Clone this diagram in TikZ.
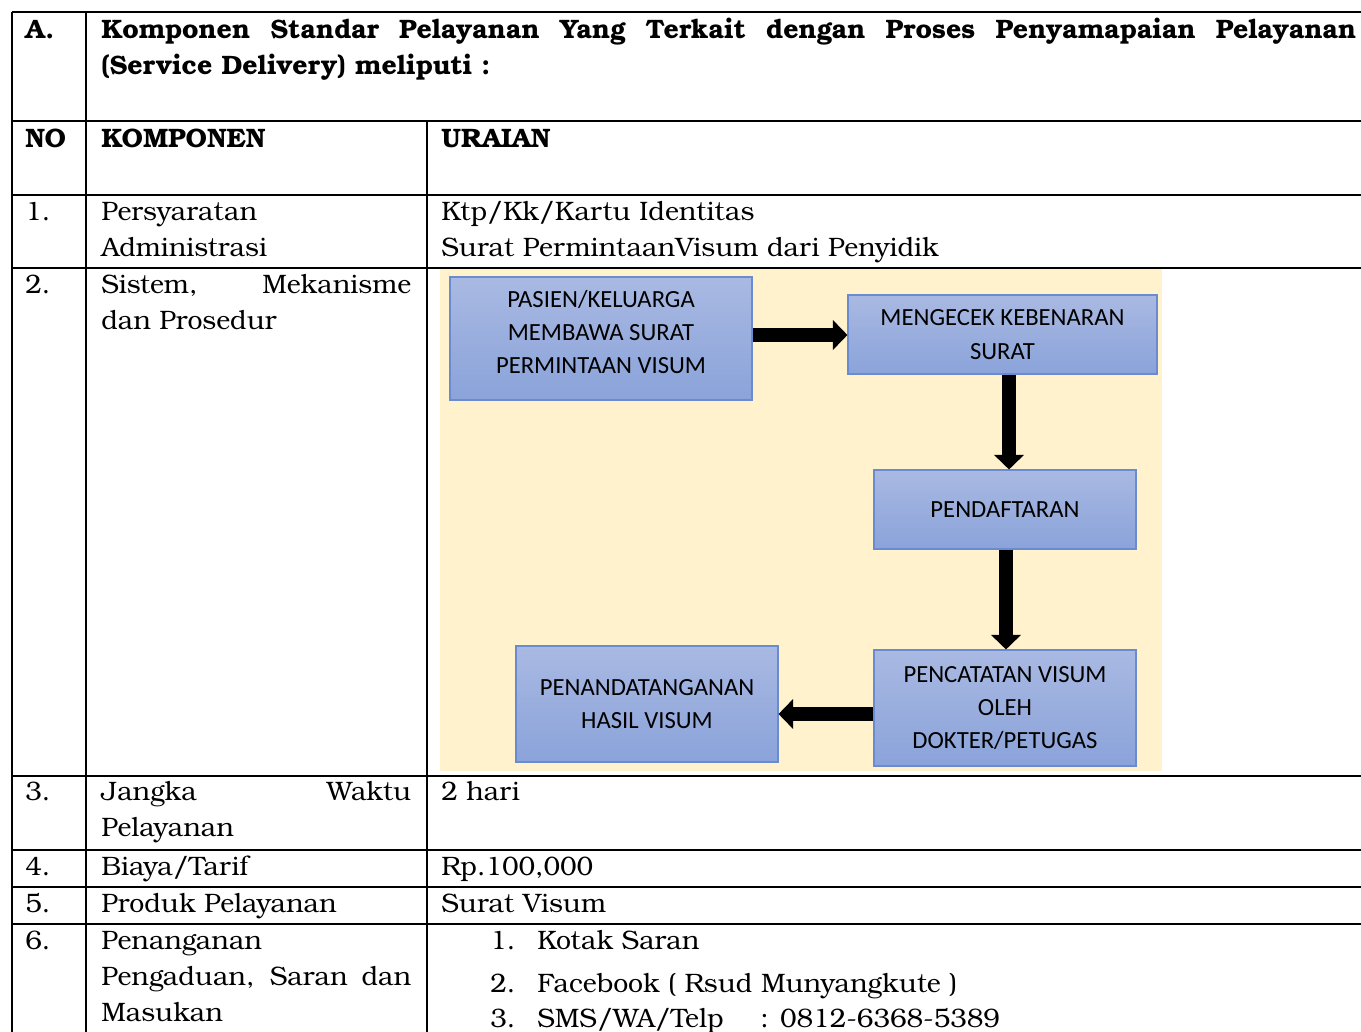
\documentclass[tikz,border=0pt]{standalone}
\usepackage{fontspec}
\setmainfont{TeX Gyre Bonum}
\newfontfamily\carlito{Carlito}
\newcommand\bk{\rmfamily}
\usetikzlibrary{arrows.meta}
\definecolor{cream}{HTML}{FFF2CC}
\definecolor{boxtop}{HTML}{A9B9E2}
\definecolor{boxbot}{HTML}{8AA3DA}
\definecolor{boxline}{HTML}{6A8BD0}
\begin{document}
\begin{tikzpicture}[x=0.75pt,y=-0.75pt,
  tline/.style={line width=1.5pt,black},
  cell/.style={anchor=base west,inner sep=0pt,font=\bk\fontsize{20}{24}\selectfont},
  hcell/.style={cell,font=\bk\fontsize{20}{24}\selectfont\bfseries},
  ftext/.style={align=center,font=\carlito\fontsize{18.5}{25}\selectfont,inner sep=0pt},
  fbox/.style={draw=boxline,line width=0.8pt,top color=boxtop,bottom color=boxbot,ftext},
  farrow/.style={line width=10.5pt,-{Triangle[length=11pt,width=22pt]}}]
\useasboundingbox (0,0) rectangle (1361,1032);
\fill[white] (0,0) rectangle (1361,1032);
% flowchart background
\fill[cream] (440,268) rectangle (1162,771);
% table rules
\draw[tline] (12,12) -- (1365,12);
\foreach \yy in {121,195,268,776,850,887,924}
  \draw[tline] (12,\yy) -- (1365,\yy);
\draw[tline] (12,12) -- (12,1036);
\draw[tline] (86,12) -- (86,1036);
\draw[tline] (427,121) -- (427,1036);
% header
\node[hcell] (hA) at (25,38) {A.};
\node[hcell] (hA1) at (101,38) {\makebox[941.25pt][s]{Komponen Standar Pelayanan Yang Terkait dengan Proses Penyamapaian Pelayanan}};
\node[hcell] (hA2) at (101,74) {(Service Delivery) meliputi :};
\node[hcell] (hNO) at (25,147) {NO};
\node[hcell] (hKO) at (101,147) {KOMPONEN};
\node[hcell] (hUR) at (441,147) {URAIAN};
% row 1
\node[cell] (n1) at (25,220) {1.};
\node[cell] (k1a) at (101,220) {Persyaratan};
\node[cell] (k1b) at (101,256) {Administrasi};
\node[cell] (u1a) at (441,220) {Ktp/Kk/Kartu Identitas};
\node[cell] (u1b) at (441,256) {Surat PermintaanVisum dari Penyidik};
% row 2
\node[cell] (n2) at (25,293) {2.};
\node[cell] (k2a) at (101,293) {\makebox[232.5pt][s]{Sistem, Mekanisme}};
\node[cell] (k2b) at (101,329) {dan Prosedur};
% flowchart
\node[fbox,minimum width=226.5pt,minimum height=92.25pt] (b1) at (601,338.5) {};
\node[ftext] (b1t) at (601,332) {PASIEN/KELUARGA\\MEMBAWA SURAT\\PERMINTAAN VISUM};
\node[fbox,minimum width=231.75pt,minimum height=59.25pt] (b2) at (1002.5,334.5) {MENGECEK KEBENARAN\\SURAT};
\node[fbox,minimum width=196.5pt,minimum height=59.25pt] (b3) at (1005,509.5) {PENDAFTARAN};
\node[fbox,minimum width=196.5pt,minimum height=87pt] (b4) at (1005,708) {PENCATATAN VISUM\\OLEH\\DOKTER/PETUGAS};
\node[fbox,minimum width=196.5pt,minimum height=87pt] (b5) at (647,704) {PENANDATANGANAN\\HASIL VISUM};
\draw[farrow] (b1.east |- 0,335) -- (b2.west |- 0,335);
\draw[farrow] (b2.south -| 1009,0) -- (b3.north -| 1009,0);
\draw[farrow] (b3.south -| 1006,0) -- (b4.north -| 1006,0);
\draw[farrow] (b4.west |- 0,714) -- (b5.east |- 0,714);
% row 3
\node[cell] (n3) at (25,800) {3.};
\node[cell] (k3a) at (101,800) {\makebox[232.5pt][s]{Jangka Waktu}};
\node[cell] (k3b) at (101,836) {Pelayanan};
\node[cell] (u3) at (441,800) {2 hari};
% row 4
\node[cell] (n4) at (25,875) {4.};
\node[cell] (k4) at (101,875) {Biaya/Tarif};
\node[cell] (u4) at (441,875) {Rp.100,000};
% row 5
\node[cell] (n5) at (25,912) {5.};
\node[cell] (k5) at (101,912) {Produk Pelayanan};
\node[cell] (u5) at (441,912) {Surat Visum};
% row 6
\node[cell] (n6) at (25,949) {6.};
\node[cell] (k6a) at (101,949) {Penanganan};
\node[cell] (k6b) at (101,985) {\makebox[232.5pt][s]{Pengaduan, Saran dan}};
\node[cell] (k6c) at (101,1021) {Masukan};
\node[cell] (l1n) at (490,949) {1.};
\node[cell] (l1) at (537,949) {Kotak Saran};
\node[cell] (l2n) at (490,992) {2.};
\node[cell] (l2) at (537,992) {Facebook ( Rsud Munyangkute )};
\node[cell] (l3n) at (490,1027) {3.};
\node[cell] (l3) at (537,1027) {SMS/WA/Telp};
\node[cell] (l3b) at (760,1027) {: 0812-6368-5389};
\end{tikzpicture}
\end{document}
